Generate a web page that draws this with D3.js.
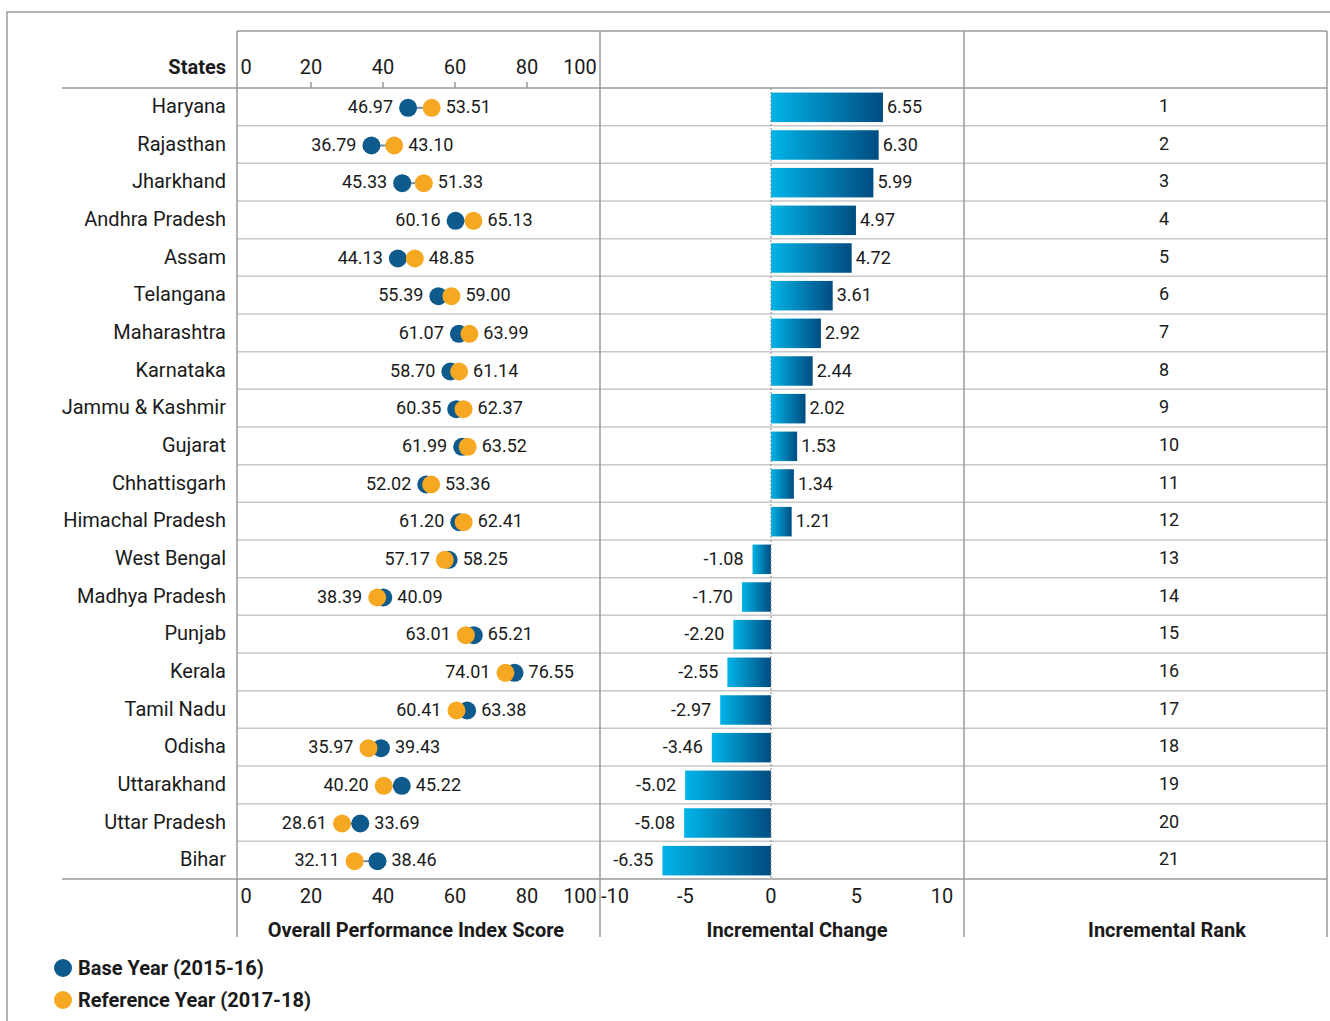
<!DOCTYPE html>
<html><head><meta charset="utf-8">
<script src="https://cdn.jsdelivr.net/npm/d3@7"></script>
<style>
body{margin:0;background:#fff;}
text{font-family:Roboto,"Noto Sans",sans-serif;fill:#1a1a1a;}
</style></head>
<body><svg id="c" width="1330" height="1021"></svg>
<script>
const states=["Haryana","Rajasthan","Jharkhand","Andhra Pradesh","Assam","Telangana","Maharashtra","Karnataka","Jammu & Kashmir","Gujarat","Chhattisgarh","Himachal Pradesh","West Bengal","Madhya Pradesh","Punjab","Kerala","Tamil Nadu","Odisha","Uttarakhand","Uttar Pradesh","Bihar"];
const baseYear=[46.97,36.79,45.33,60.16,44.13,55.39,61.07,58.70,60.35,61.99,52.02,61.20,58.25,40.09,65.21,76.55,63.38,39.43,45.22,33.69,38.46];
const refYear=[53.51,43.10,51.33,65.13,48.85,59.00,63.99,61.14,62.37,63.52,53.36,62.41,57.17,38.39,63.01,74.01,60.41,35.97,40.20,28.61,32.11];
const change=[6.55,6.30,5.99,4.97,4.72,3.61,2.92,2.44,2.02,1.53,1.34,1.21,-1.08,-1.70,-2.20,-2.55,-2.97,-3.46,-5.02,-5.08,-6.35];
const rank=[1,2,3,4,5,6,7,8,9,10,11,12,13,14,15,16,17,18,19,20,21];
const scoreTicks=[0,20,40,60,80,100];
const changeTicks=[-10,-5,0,5,10];
const legendLabels=["Base Year (2015-16)","Reference Year (2017-18)"];
const titles=["Overall Performance Index Score","Incremental Change","Incremental Rank"];

const BLUE="#0e5a8c", ORANGE="#f7a823";
const svg=d3.select("#c");
const defs=svg.append("defs");
const grad=defs.append("linearGradient").attr("id","bg").attr("x1","0%").attr("x2","100%");
grad.append("stop").attr("offset","0%").attr("stop-color","#00b4e8");
grad.append("stop").attr("offset","100%").attr("stop-color","#014c80");

const yTop=88, yBot=879;
const p1=[237,600], p2=[600,964], p3=[964,1327];
const y=d3.scaleBand().domain(states).range([yTop,yBot]);
const xs=d3.scaleLinear().domain([0,100]).range([239,599]);
const xc=d3.scaleLinear().domain([-10,11.29]).range([600,964]);

svg.append("path").attr("d","M7,1021V12H1330").attr("fill","none").attr("stroke","#9a9a9a").attr("stroke-width",1.5);
svg.append("g").selectAll("line").data(states.slice(1)).join("line")
 .attr("x1",p1[0]).attr("x2",p3[1]).attr("y1",d=>y(d)).attr("y2",d=>y(d))
 .attr("stroke","#c8c8c8").attr("stroke-width",1.5);
svg.append("line").attr("x1",p1[0]).attr("x2",p3[1]).attr("y1",31).attr("y2",31).attr("stroke","#9a9a9a").attr("stroke-width",1.5);
[yTop,yBot].forEach(v=>svg.append("line").attr("x1",62).attr("x2",p3[1]).attr("y1",v).attr("y2",v).attr("stroke","#9a9a9a").attr("stroke-width",1.5));
[p1[0],p2[0],p3[0],p3[1]].forEach(v=>svg.append("line").attr("x1",v).attr("x2",v).attr("y1",31).attr("y2",937).attr("stroke","#9a9a9a").attr("stroke-width",1.5));

svg.append("text").attr("x",226).attr("y",74).attr("text-anchor","end").attr("font-size",20).attr("font-weight","bold").text("States");
svg.append("g").selectAll("text").data(states).join("text")
 .attr("x",226).attr("y",d=>y(d)+y.bandwidth()/2+6).attr("text-anchor","end").attr("font-size",20).text(d=>d);

function scoreLabels(yy){
 svg.append("g").selectAll("text").data(scoreTicks).join("text")
  .attr("x",d=>xs(d)+(d===0?7:d===100?-19:0)).attr("y",yy).attr("text-anchor","middle").attr("font-size",20).text(d=>d);
}
scoreLabels(74); scoreLabels(903);
svg.append("g").selectAll("line").data(scoreTicks.filter(d=>d>0&&d<100)).join("line")
 .attr("x1",d=>xs(d)).attr("x2",d=>xs(d)).attr("y1",82).attr("y2",88).attr("stroke","#9a9a9a").attr("stroke-width",1.5);

const dg=svg.append("g");
states.forEach((s,i)=>{
 const cy=y(s)+y.bandwidth()/2+1;
 const a=baseYear[i], b=refYear[i];
 const lo=Math.min(a,b), hi=Math.max(a,b);
 dg.append("line").attr("x1",xs(lo)).attr("x2",xs(hi)).attr("y1",cy).attr("y2",cy).attr("stroke","#6f8da6").attr("stroke-width",2);
 dg.append("circle").attr("cx",xs(a)).attr("cy",cy).attr("r",9).attr("fill",BLUE);
 dg.append("circle").attr("cx",xs(b)).attr("cy",cy).attr("r",9).attr("fill",ORANGE);
 dg.append("text").attr("x",xs(lo)-15).attr("y",cy+5).attr("text-anchor","end").attr("font-size",18).text(lo.toFixed(2));
 dg.append("text").attr("x",xs(hi)+14).attr("y",cy+5).attr("text-anchor","start").attr("font-size",18).text(hi.toFixed(2));
});

const bh=29.5;
svg.append("g").selectAll("rect").data(states).join("rect")
 .attr("x",(d,i)=>xc(Math.min(0,change[i]))).attr("width",(d,i)=>Math.abs(xc(change[i])-xc(0)))
 .attr("y",d=>y(d)+(y.bandwidth()-bh)/2+0.5).attr("height",bh).attr("fill","url(#bg)");
svg.append("line").attr("x1",xc(0)).attr("x2",xc(0)).attr("y1",yTop).attr("y2",yBot).attr("stroke","#888").attr("stroke-dasharray","2,2");
svg.append("g").selectAll("text").data(states).join("text")
 .attr("x",(d,i)=>change[i]>=0?xc(change[i])+4:xc(change[i])-9)
 .attr("y",d=>y(d)+y.bandwidth()/2+6).attr("text-anchor",(d,i)=>change[i]>=0?"start":"end")
 .attr("font-size",18).text((d,i)=>change[i].toFixed(2));
svg.append("g").selectAll("text").data(changeTicks).join("text")
 .attr("x",d=>xc(d)+(d===-10?15:0)).attr("y",903).attr("text-anchor","middle").attr("font-size",20).text(d=>d);

svg.append("g").selectAll("text").data(states).join("text")
 .attr("x",1159).attr("y",d=>y(d)+y.bandwidth()/2+5).attr("text-anchor","start").attr("font-size",18).text((d,i)=>rank[i]);

[416,797,1167].forEach((x,i)=>svg.append("text").attr("x",x).attr("y",937).attr("text-anchor","middle").attr("font-size",20).attr("font-weight","bold").text(titles[i]));

[BLUE,ORANGE].forEach((c,i)=>{
 svg.append("circle").attr("cx",63).attr("cy",968+i*32).attr("r",9).attr("fill",c);
 svg.append("text").attr("x",78).attr("y",975+i*32).attr("font-size",20).attr("font-weight","bold").text(legendLabels[i]);
});
</script></body></html>
